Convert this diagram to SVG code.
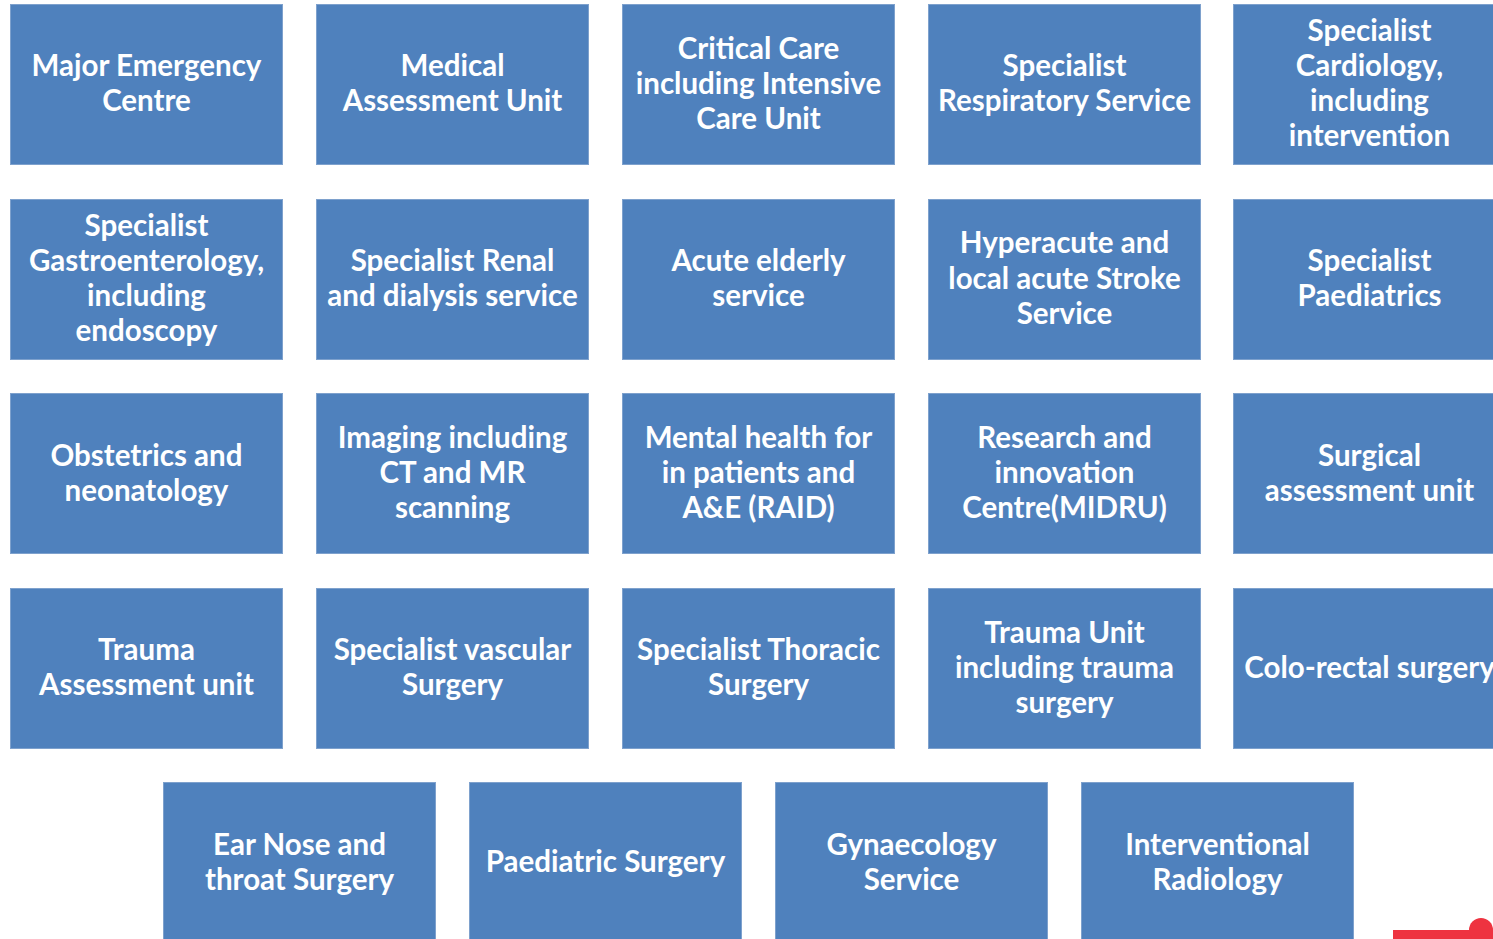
<svg xmlns="http://www.w3.org/2000/svg" width="1493" height="939" viewBox="0 0 1493 939">
  <style>
    .box { fill: #4F81BD; stroke: #7EA1CD; stroke-width: 1; }
    .lbl { fill: #FFFFFF; font-family: Lato, "Open Sans", "Liberation Sans", sans-serif; font-weight: bold; font-size: 29.5px; text-anchor: middle; }
    .mark { fill: #EE3340; }
  </style>
  <rect width="1493" height="939" fill="#FFFFFF"/>

  <!-- row 1 -->
  <g id="major-emergency">
    <rect class="box" x="10.5" y="4.5" width="272" height="160"/>
    <text class="lbl"><tspan x="146.5" y="76">Major Emergency</tspan><tspan x="146.5" y="111">Centre</tspan></text>
  </g>
  <g id="medical-assessment">
    <rect class="box" x="316.5" y="4.5" width="272" height="160"/>
    <text class="lbl"><tspan x="452.5" y="76">Medical</tspan><tspan x="452.5" y="111">Assessment Unit</tspan></text>
  </g>
  <g id="critical-care">
    <rect class="box" x="622.5" y="4.5" width="272" height="160"/>
    <text class="lbl"><tspan x="758.5" y="59">Critical Care</tspan><tspan x="758.5" y="94">including Intensive</tspan><tspan x="758.5" y="129">Care Unit</tspan></text>
  </g>
  <g id="respiratory">
    <rect class="box" x="928.5" y="4.5" width="272" height="160"/>
    <text class="lbl"><tspan x="1064.5" y="76">Specialist</tspan><tspan x="1064.5" y="111">Respiratory Service</tspan></text>
  </g>
  <g id="cardiology">
    <rect class="box" x="1233.5" y="4.5" width="272" height="160"/>
    <text class="lbl"><tspan x="1369.5" y="41">Specialist</tspan><tspan x="1369.5" y="76">Cardiology,</tspan><tspan x="1369.5" y="111">including</tspan><tspan x="1369.5" y="146">intervention</tspan></text>
  </g>

  <!-- row 2 -->
  <g id="gastroenterology">
    <rect class="box" x="10.5" y="199.5" width="272" height="160"/>
    <text class="lbl"><tspan x="146.5" y="236">Specialist</tspan><tspan x="146.5" y="271">Gastroenterology,</tspan><tspan x="146.5" y="306">including</tspan><tspan x="146.5" y="341">endoscopy</tspan></text>
  </g>
  <g id="renal">
    <rect class="box" x="316.5" y="199.5" width="272" height="160"/>
    <text class="lbl"><tspan x="452.5" y="271">Specialist Renal</tspan><tspan x="452.5" y="306">and dialysis service</tspan></text>
  </g>
  <g id="acute-elderly">
    <rect class="box" x="622.5" y="199.5" width="272" height="160"/>
    <text class="lbl"><tspan x="758.5" y="271">Acute elderly</tspan><tspan x="758.5" y="306">service</tspan></text>
  </g>
  <g id="stroke">
    <rect class="box" x="928.5" y="199.5" width="272" height="160"/>
    <text class="lbl"><tspan x="1064.5" y="253">Hyperacute and</tspan><tspan x="1064.5" y="289">local acute Stroke</tspan><tspan x="1064.5" y="324">Service</tspan></text>
  </g>
  <g id="paediatrics">
    <rect class="box" x="1233.5" y="199.5" width="272" height="160"/>
    <text class="lbl"><tspan x="1369.5" y="271">Specialist</tspan><tspan x="1369.5" y="306">Paediatrics</tspan></text>
  </g>

  <!-- row 3 -->
  <g id="obstetrics">
    <rect class="box" x="10.5" y="393.5" width="272" height="160"/>
    <text class="lbl"><tspan x="146.5" y="466">Obstetrics and</tspan><tspan x="146.5" y="501">neonatology</tspan></text>
  </g>
  <g id="imaging">
    <rect class="box" x="316.5" y="393.5" width="272" height="160"/>
    <text class="lbl"><tspan x="452.5" y="448">Imaging including</tspan><tspan x="452.5" y="483">CT and MR</tspan><tspan x="452.5" y="518">scanning</tspan></text>
  </g>
  <g id="mental-health">
    <rect class="box" x="622.5" y="393.5" width="272" height="160"/>
    <text class="lbl"><tspan x="758.5" y="448">Mental health for</tspan><tspan x="758.5" y="483">in patients and</tspan><tspan x="758.5" y="518">A&amp;E (RAID)</tspan></text>
  </g>
  <g id="research">
    <rect class="box" x="928.5" y="393.5" width="272" height="160"/>
    <text class="lbl"><tspan x="1064.5" y="448">Research and</tspan><tspan x="1064.5" y="483">innovation</tspan><tspan x="1064.5" y="518">Centre(MIDRU)</tspan></text>
  </g>
  <g id="surgical-assessment">
    <rect class="box" x="1233.5" y="393.5" width="272" height="160"/>
    <text class="lbl"><tspan x="1369.5" y="466">Surgical</tspan><tspan x="1369.5" y="501">assessment unit</tspan></text>
  </g>

  <!-- row 4 -->
  <g id="trauma-assessment">
    <rect class="box" x="10.5" y="588.5" width="272" height="160"/>
    <text class="lbl"><tspan x="146.5" y="660">Trauma</tspan><tspan x="146.5" y="695">Assessment unit</tspan></text>
  </g>
  <g id="vascular">
    <rect class="box" x="316.5" y="588.5" width="272" height="160"/>
    <text class="lbl"><tspan x="452.5" y="660">Specialist vascular</tspan><tspan x="452.5" y="695">Surgery</tspan></text>
  </g>
  <g id="thoracic">
    <rect class="box" x="622.5" y="588.5" width="272" height="160"/>
    <text class="lbl"><tspan x="758.5" y="660">Specialist Thoracic</tspan><tspan x="758.5" y="695">Surgery</tspan></text>
  </g>
  <g id="trauma-unit">
    <rect class="box" x="928.5" y="588.5" width="272" height="160"/>
    <text class="lbl"><tspan x="1064.5" y="643">Trauma Unit</tspan><tspan x="1064.5" y="678">including trauma</tspan><tspan x="1064.5" y="713">surgery</tspan></text>
  </g>
  <g id="colorectal">
    <rect class="box" x="1233.5" y="588.5" width="272" height="160"/>
    <text class="lbl"><tspan x="1369.5" y="678">Colo-rectal surgery</tspan></text>
  </g>

  <!-- row 5 -->
  <g id="ent">
    <rect class="box" x="163.5" y="782.5" width="272" height="170"/>
    <text class="lbl"><tspan x="299.5" y="855">Ear Nose and</tspan><tspan x="299.5" y="890">throat Surgery</tspan></text>
  </g>
  <g id="paediatric-surgery">
    <rect class="box" x="469.5" y="782.5" width="272" height="170"/>
    <text class="lbl"><tspan x="605.5" y="872">Paediatric Surgery</tspan></text>
  </g>
  <g id="gynaecology">
    <rect class="box" x="775.5" y="782.5" width="272" height="170"/>
    <text class="lbl"><tspan x="911.5" y="855">Gynaecology</tspan><tspan x="911.5" y="890">Service</tspan></text>
  </g>
  <g id="interventional-radiology">
    <rect class="box" x="1081.5" y="782.5" width="272" height="170"/>
    <text class="lbl"><tspan x="1217.5" y="855">Interventional</tspan><tspan x="1217.5" y="890">Radiology</tspan></text>
  </g>

  <!-- red marker at lower right -->
  <g id="red-marker">
    <rect class="mark" x="1393" y="930" width="100" height="9"/>
    <circle class="mark" cx="1481" cy="930" r="12"/>
  </g>

  <g id="connectors"></g>
</svg>
